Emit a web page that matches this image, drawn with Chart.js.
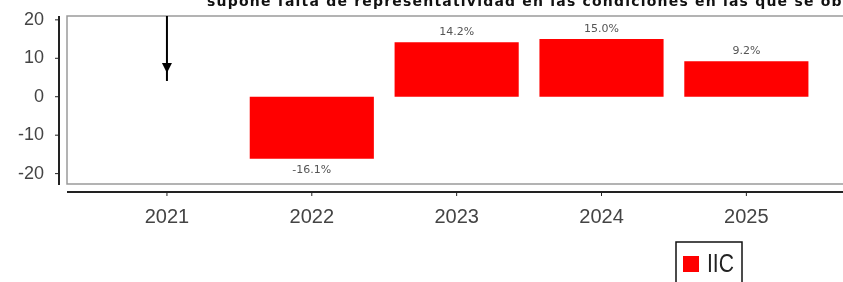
<!DOCTYPE html>
<html lang="es">
<head>
<meta charset="UTF-8">
<title>IIC – rentabilidad anual</title>
<script src="https://cdn.jsdelivr.net/npm/chart.js"></script>
<style>
  html, body { margin: 0; padding: 0; background: #fff; overflow: hidden; }
  #wrap { width: 860px; height: 282px; }
</style>
</head>
<body>
<div id="wrap"><canvas id="chart"></canvas></div>
<script>
  const years = [2021, 2022, 2023, 2024, 2025];
  const returns = [null, -16.1, 14.2, 15.0, 9.2];
  const yTicks = [-20, -10, 0, 10, 20];
  const seriesName = 'IIC';
  const titleText = 'supone falta de representatividad en las condiciones en las que se ob';
  // flecha sobre 2021 (sin dato representativo)
  const arrowYear = 2021;
  const arrowTip = 6.2;
  const arrowEnd = 4.1;

  const decor = {
    id: 'decor',
    beforeDatasetsDraw(chart) {
      const { ctx, chartArea: a, scales: { x, y } } = chart;
      ctx.save();
      // marco del área de trazado (lado derecho fuera de la imagen)
      ctx.strokeStyle = '#9a9a9a';
      ctx.lineWidth = 1.5;
      ctx.beginPath();
      ctx.moveTo(chart.width, a.top);
      ctx.lineTo(a.left, a.top);
      ctx.lineTo(a.left, a.bottom);
      ctx.lineTo(chart.width, a.bottom);
      ctx.stroke();
      // ejes desplazados
      ctx.strokeStyle = '#222';
      ctx.lineWidth = 2;
      ctx.beginPath();
      ctx.moveTo(a.left - 8, a.top);
      ctx.lineTo(a.left - 8, a.bottom + 1);
      ctx.moveTo(a.left, a.bottom + 8);
      ctx.lineTo(chart.width, a.bottom + 8);
      ctx.stroke();
      ctx.lineWidth = 1;
      ctx.beginPath();
      y.ticks.forEach(t => {
        const py = y.getPixelForValue(t.value);
        ctx.moveTo(a.left - 12, py);
        ctx.lineTo(a.left - 8, py);
      });
      x.ticks.forEach(t => {
        const px = x.getPixelForValue(t.value);
        ctx.moveTo(px, a.bottom + 8);
        ctx.lineTo(px, a.bottom + 12);
      });
      ctx.stroke();
      ctx.restore();
    },
    afterDraw(chart) {
      const { ctx, chartArea: a, scales: { x, y } } = chart;
      ctx.save();

      // título (cortado arriba)
      ctx.fillStyle = '#111';
      ctx.font = 'bold 14px "DejaVu Sans"';
      ctx.letterSpacing = '1.2px';
      ctx.textAlign = 'left';
      ctx.textBaseline = 'alphabetic';
      ctx.fillText(titleText, 207, 6);
      ctx.letterSpacing = '0px';

      // flecha
      const ax = x.getPixelForValue(arrowYear);
      const tip = y.getPixelForValue(arrowTip);
      ctx.strokeStyle = '#000';
      ctx.lineWidth = 2;
      ctx.beginPath();
      ctx.moveTo(ax, a.top);
      ctx.lineTo(ax, y.getPixelForValue(arrowEnd));
      ctx.stroke();
      ctx.fillStyle = '#000';
      ctx.beginPath();
      ctx.moveTo(ax - 5, tip - 10);
      ctx.lineTo(ax + 5, tip - 10);
      ctx.lineTo(ax, tip);
      ctx.closePath();
      ctx.fill();

      // etiquetas de valor
      const meta = chart.getDatasetMeta(0);
      ctx.font = '11px "DejaVu Sans"';
      ctx.fillStyle = '#555';
      ctx.textAlign = 'center';
      ctx.textBaseline = 'middle';
      meta.data.forEach((el, i) => {
        const v = returns[i];
        if (v === null) return;
        const ly = v >= 0 ? el.y - 10 : el.y + 12;
        ctx.fillText(v.toFixed(1) + '%', el.x, ly);
      });

      // leyenda
      const ds = chart.data.datasets[0];
      ctx.strokeStyle = '#111';
      ctx.lineWidth = 1.5;
      ctx.strokeRect(676, 242, 66, 60);
      ctx.fillStyle = ds.backgroundColor;
      ctx.fillRect(683, 256, 16, 16);
      ctx.fillStyle = '#222';
      ctx.font = '26px "Liberation Sans"';
      ctx.textAlign = 'left';
      ctx.textBaseline = 'alphabetic';
      const w = ctx.measureText(ds.label).width;
      ctx.translate(707, 272);
      ctx.scale(27 / w, 1);
      ctx.fillText(ds.label, 0, 0);
      ctx.restore();
    }
  };

  new Chart(document.getElementById('chart'), {
    type: 'bar',
    data: {
      datasets: [{
        label: seriesName,
        data: years.map((yr, i) => ({ x: yr, y: returns[i] })),
        backgroundColor: '#ff0000',
        borderWidth: 0,
        categoryPercentage: 1,
        barPercentage: 0.857
      }]
    },
    options: {
      responsive: true,
      maintainAspectRatio: false,
      animation: false,
      layout: { padding: { top: 16, right: 5, left: 0, bottom: 0 } },
      plugins: {
        legend: { display: false },
        tooltip: { enabled: false }
      },
      scales: {
        x: {
          type: 'linear',
          offset: false,
          min: 2020.31,
          max: 2025.75,
          grid: { display: false, drawTicks: false, offset: false },
          border: { display: false },
          afterBuildTicks: s => { s.ticks = years.map(v => ({ value: v })); },
          afterFit: s => { s.height = 98; s.paddingLeft = 0; s.paddingRight = 0; },
          ticks: {
            padding: 21,
            color: '#444',
            font: { family: '"Liberation Sans"', size: 20 },
            callback: v => String(v)
          }
        },
        y: {
          min: -22.7,
          max: 21,
          grid: { display: false, drawTicks: false },
          border: { display: false },
          afterBuildTicks: s => { s.ticks = yTicks.map(v => ({ value: v })); },
          afterFit: s => { s.width = 67; s.paddingTop = 0; s.paddingBottom = 0; },
          ticks: {
            padding: 23,
            color: '#444',
            font: { family: '"Liberation Sans"', size: 18 }
          }
        }
      }
    },
    plugins: [decor]
  });
</script>
</body>
</html>
